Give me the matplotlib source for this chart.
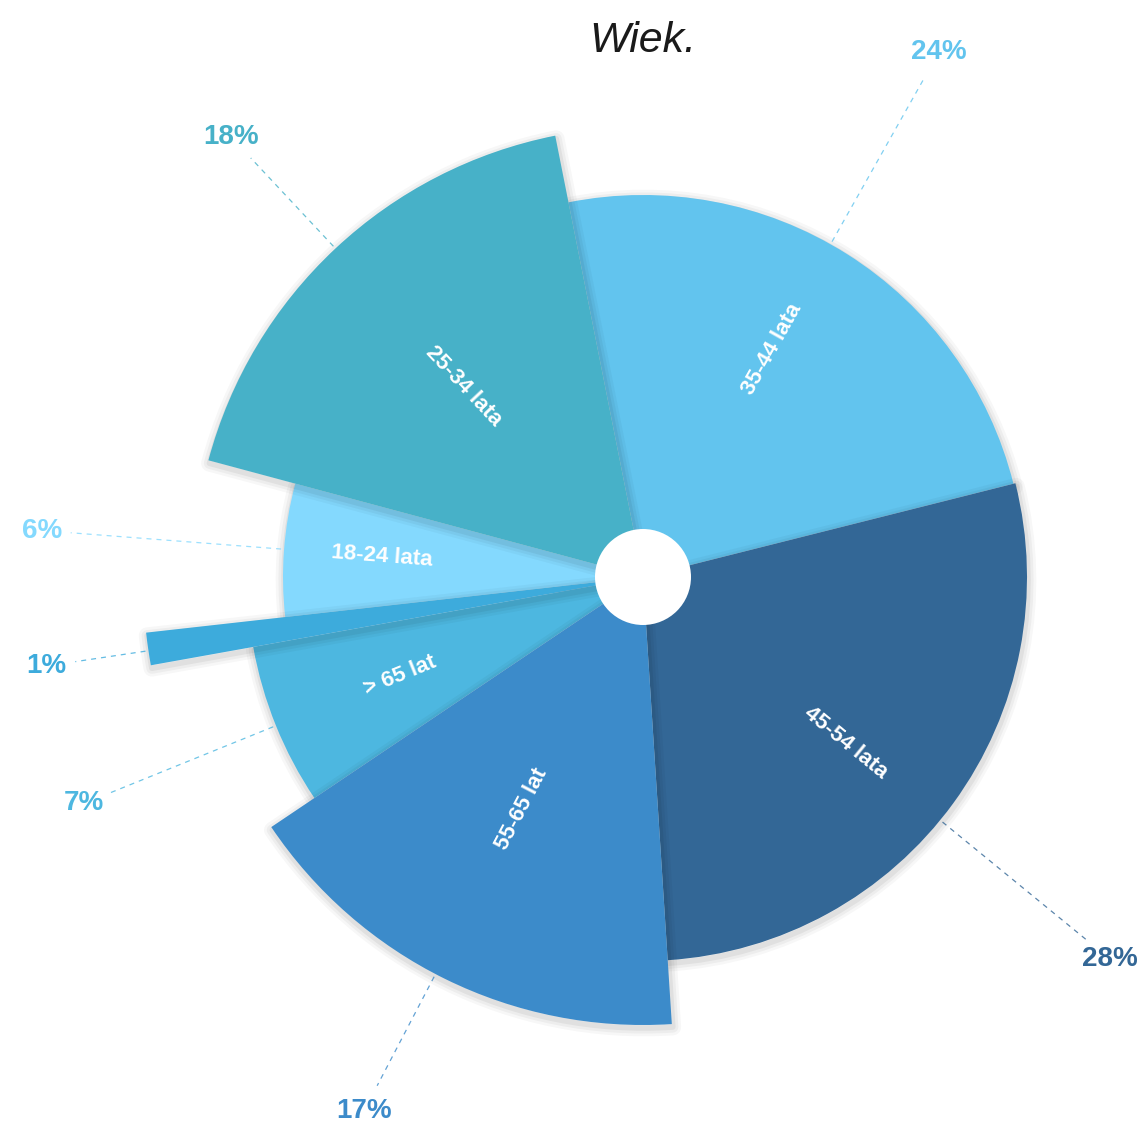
import numpy as np
import matplotlib.pyplot as plt
from matplotlib.patches import Wedge, Circle

plt.rcParams['font.family'] = ['Liberation Sans', 'DejaVu Sans']

# data
names = ['35-44 lata', '45-54 lata', '55-65 lat', '> 65 lat', '', '18-24 lata', '25-34 lata']
values = [24.2, 27.9, 16.6, 6.6, 1.05, 5.95, 17.7]
depth = [382, 384, 448, 396, 500, 360, 450]
colors = ['#62C4EE', '#336796', '#3C8BCA', '#4DB7E0', '#3DABDC', '#84D9FE', '#47B1C8']
title = 'Wiek.'

# layout (pixel-like units)
W, H = 1143, 1130
cx, cy = 643, 553
start = -11.25         # degrees clockwise from north
hole = 48
inner_r = 262
line_end = 574
pct_r = 603
label_shift = [-2.9, 3.2, 1.4, 0.0, -0.2, 0.1, 0.0]   # label angle nudges (deg)

fig = plt.figure(figsize=(W / 100, H / 100), dpi=100)
ax = fig.add_axes([0, 0, 1, 1])
ax.set_xlim(0, W)
ax.set_ylim(0, H)
ax.set_aspect('equal')
ax.axis('off')

spans = np.array(values) / sum(values) * 360
starts = start + np.concatenate([[0], np.cumsum(spans)[:-1]])
mids = starts + spans / 2


def pos(a, r):
    a = np.radians(a)
    return cx + r * np.sin(a), cy + r * np.cos(a)


# slices, smallest first so bigger ones cast shadow over neighbours
for i in np.argsort(depth):
    t1 = 90 - (starts[i] + spans[i])
    t2 = 90 - starts[i]
    for lw, al in [(12, 0.03), (8, 0.04), (4, 0.05)]:
        ax.add_patch(Wedge((cx + 1, cy - 3), depth[i], t1, t2, facecolor='none',
                           edgecolor='black', lw=lw, alpha=al, joinstyle='round'))
    ax.add_patch(Wedge((cx, cy), depth[i], t1, t2, facecolor=colors[i], edgecolor='none'))

ax.add_patch(Circle((cx, cy), hole, facecolor='white', edgecolor='none', zorder=5))

for i in range(len(values)):
    a = (mids[i] + label_shift[i]) % 360
    # name inside slice
    if names[i]:
        x, y = pos(a, inner_r)
        rot = 90 - a if a < 180 else 270 - a
        ax.text(x, y, names[i], color='white', fontsize=16, fontweight='bold',
                rotation=rot, rotation_mode='anchor', ha='center', va='center', zorder=6)
    # leader line + percent
    x0, y0 = pos(a, depth[i] + 3)
    x1, y1 = pos(a, line_end)
    ax.plot([x0, x1], [y0, y1], color=colors[i], lw=0.9, ls=(0, (4, 4)), alpha=0.8)
    x, y = pos(a, pct_r)
    ax.text(x, y, '%d%%' % round(values[i]), color=colors[i], fontsize=20, fontweight='bold',
            ha='center', va='center')

ax.text(cx, H - 41, title, fontsize=31, style='italic', ha='center', va='center', color='#1a1a1a')

plt.savefig('out.png', dpi=100)
